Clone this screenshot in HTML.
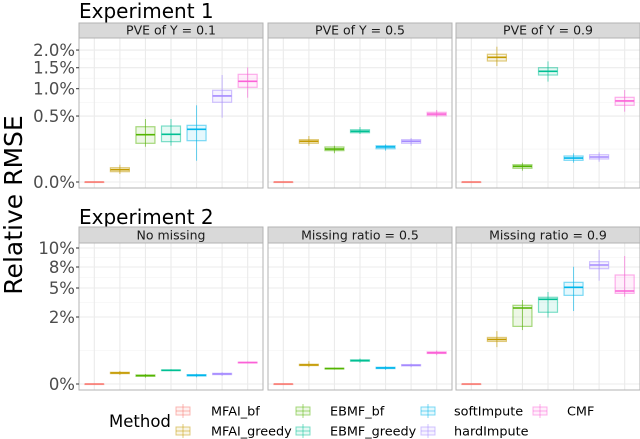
<!DOCTYPE html>
<html><head><meta charset="utf-8"><style>
body{margin:0;background:#fff;}
svg{display:block;font-family:"DejaVu Sans","Liberation Sans",sans-serif;}
</style></head><body>
<svg id="chart" width="640" height="439" viewBox="0 0 640 439" xmlns="http://www.w3.org/2000/svg"></svg>
<script>
const methods = ["MFAI_bf","MFAI_greedy","EBMF_bf","EBMF_greedy","softImpute","hardImpute","CMF"];
const colors = ["#F8766D","#C49A00","#53B400","#00C094","#00B6EB","#A58AFF","#FB61D7"];
const exp1Facets = ["PVE of Y = 0.1","PVE of Y = 0.5","PVE of Y = 0.9"];
const exp2Facets = ["No missing","Missing ratio = 0.5","Missing ratio = 0.9"];
const exp1Ticks = [0,0.5,1.0,1.5,2.0];
const exp1TickLabels = ["0.0%","0.5%","1.0%","1.5%","2.0%"];
const exp2Ticks = [0,2,5,8,10];
const exp2TickLabels = ["0%","2%","5%","8%","10%"];
// each box: [low whisker, q1, median, q3, high whisker] in percent
const exp1Pve01 = [[0,0,0,0,0],[0.0074,0.0122,0.0174,0.0235,0.0344],[0.143,0.172,0.257,0.351,0.456],[0.151,0.187,0.261,0.36,0.456],[0.052,0.196,0.319,0.369,0.676],[0.475,0.73,0.85,0.966,1.315],[0.816,1.03,1.165,1.332,1.51]];
const exp1Pve05 = [[0,0,0,0,0],[0.151,0.172,0.19,0.206,0.243],[0.095,0.113,0.125,0.141,0.151],[0.265,0.279,0.295,0.314,0.347],[0.113,0.127,0.141,0.151,0.163],[0.151,0.172,0.19,0.206,0.222],[0.481,0.505,0.531,0.558,0.596]];
const exp1Pve09 = [[0,0,0,0,0],[1.546,1.682,1.786,1.874,2.103],[0.0147,0.0216,0.0283,0.0344,0.0428],[1.156,1.315,1.408,1.501,1.673],[0.0428,0.054,0.066,0.0777,0.0946],[0.0473,0.0608,0.0718,0.0856,0.101],[0.568,0.676,0.754,0.824,0.972]];
const exp2None = [[0,0,0,0,0],[0.27,0.31,0.33,0.35,0.39],[0.19,0.23,0.25,0.27,0.3],[0.39,0.40,0.41,0.42,0.44],[0.2,0.24,0.26,0.28,0.31],[0.24,0.28,0.30,0.32,0.35],[0.62,0.63,0.64,0.65,0.67]];
const exp2Half = [[0,0,0,0,0],[0.5,0.55,0.57,0.59,0.68],[0.43,0.45,0.46,0.47,0.49],[0.63,0.68,0.70,0.72,0.76],[0.42,0.46,0.48,0.5,0.53],[0.5,0.54,0.56,0.58,0.61],[0.86,0.91,0.93,0.96,1.0]];
const exp2Ninety = [[0,0,0,0,0],[1.10,1.27,1.33,1.39,1.58],[1.61,1.72,2.93,3.21,3.76],[1.98,2.49,3.83,4.04,4.59],[2.62,4.24,5.1,5.81,8.03],[6.04,7.76,8.21,8.56,9.79],[4.1,4.45,4.69,6.86,9.16]];

const NS="http://www.w3.org/2000/svg";
const svg=document.getElementById('chart');
function mk(tag,attrs,parent){const e=document.createElementNS(NS,tag);for(const k in attrs)e.setAttribute(k,attrs[k]);(parent||svg).appendChild(e);return e;}
const panelsX=[[79,263],[268,452],[456,640]];
function xScale(p,i){const [a,b]=panelsX[p];return a+(i+0.6)*(b-a)/7.2;}
function yExp1(v){return 182-93.3*Math.sqrt(Math.max(v,0));}
const exp2Pix=[384,317,288,267,248];
function yExp2(v){for(let k=0;k<exp2Ticks.length-1;k++){if(v<=exp2Ticks[k+1]){const t=(v-exp2Ticks[k])/(exp2Ticks[k+1]-exp2Ticks[k]);return exp2Pix[k]+t*(exp2Pix[k+1]-exp2Pix[k]);}}return exp2Pix[4];}

function drawRow(title,titleY,stripTop,stripBot,plotBot,facets,datas,yf,ticks,tickLabels,fs){
  const t=mk('text',{x:79,y:titleY,'font-size':20,fill:'#000'});t.textContent=title;
  
  
  const tickPix=ticks.map(yf);
  for(let p=0;p<3;p++){
    const [a,b]=panelsX[p];
    const g=mk('g',{});
    
    
    mk('rect',{x:a,y:stripBot,width:b-a,height:plotBot-stripBot,fill:'#fff'},g);
    for(let k=0;k<tickPix.length-1;k++){const m=(tickPix[k]+tickPix[k+1])/2;mk('line',{x1:a,x2:b,y1:m,y2:m,stroke:'#f2f2f2','stroke-width':0.6},g);}
    tickPix.forEach(y=>mk('line',{x1:a,x2:b,y1:y,y2:y,stroke:'#ebebeb','stroke-width':1.1},g));
    for(let i=0;i<7;i++){const x=xScale(p,i);mk('line',{x1:x,x2:x,y1:stripBot,y2:plotBot,stroke:'#ebebeb','stroke-width':1.1},g);}
    datas[p].forEach((d,i)=>{
      const x=xScale(p,i),w=19,c=colors[i];
      const bx=mk('g',{},g);
      
      
      mk('line',{x1:x,x2:x,y1:yf(d[0]),y2:yf(d[4]),stroke:c,'stroke-width':1,opacity:0.6},bx);
      const y3=yf(d[3]),y1=yf(d[1]);
      mk('rect',{x:x-w/2,y:y3,width:w,height:Math.max(y1-y3,0.5),fill:c,'fill-opacity':0.1,stroke:c,'stroke-opacity':0.5,'stroke-width':1.2},bx);
      mk('line',{x1:x-w/2,x2:x+w/2,y1:yf(d[2]),y2:yf(d[2]),stroke:c,'stroke-width':1.6},bx);
    });
    mk('rect',{x:a,y:stripBot,width:b-a,height:plotBot-stripBot,fill:'none',stroke:'#b3b3b3','stroke-width':1},g);
    mk('rect',{x:a,y:stripTop,width:b-a,height:stripBot-stripTop,fill:'#d9d9d9',stroke:'#b3b3b3','stroke-width':1},g);
    const st=mk('text',{x:(a+b)/2,y:stripBot-3.5,'font-size':12.5,fill:'#1a1a1a','text-anchor':'middle'},g);
    st.textContent=facets[p];
    
    
  }
  tickPix.forEach((y,k)=>{
    mk('line',{x1:76,x2:79,y1:y,y2:y,stroke:'#333','stroke-width':1});
    const tl=mk('text',{x:75,y:y+fs*0.36,'font-size':fs,fill:'#4d4d4d','text-anchor':'end'});
    tl.textContent=tickLabels[k];
    
    
  });
}
drawRow("Experiment 1",18,23,38,188,exp1Facets,[exp1Pve01,exp1Pve05,exp1Pve09],yExp1,exp1Ticks,exp1TickLabels,16.5);
drawRow("Experiment 2",224,227,243,390,exp2Facets,[exp2None,exp2Half,exp2Ninety],yExp2,exp2Ticks,exp2TickLabels,16.5);

const yt=mk('text',{x:0,y:0,'font-size':25,fill:'#000','text-anchor':'middle',transform:'translate(22,205) rotate(-90)'});
yt.textContent="Relative RMSE";



const lg=mk('g',{});


const lt=mk('text',{x:109,y:427,'font-size':16.5,fill:'#000'},lg);
lt.textContent="Method";


const colKey=[183,303,428,540],colLab=[211,330,454,567],rowY=[411,431];
methods.forEach((m,i)=>{
  const col=Math.floor(i/2),row=i%2,c=colors[i];
  const e=mk('g',{},lg);
  
  
  const kx=colKey[col],ky=rowY[row];
  mk('line',{x1:kx,x2:kx,y1:ky-7,y2:ky+7,stroke:c,'stroke-width':1,opacity:0.5},e);
  mk('rect',{x:kx-7,y:ky-4,width:14,height:8,fill:c,'fill-opacity':0.1,stroke:c,'stroke-opacity':0.5},e);
  mk('line',{x1:kx-7,x2:kx+7,y1:ky,y2:ky,stroke:c,'stroke-width':1,opacity:0.5},e);
  const tx=mk('text',{x:colLab[col],y:ky+4.5,'font-size':12.8,fill:'#000'},e);
  tx.textContent=m;
});
</script>
</body></html>
